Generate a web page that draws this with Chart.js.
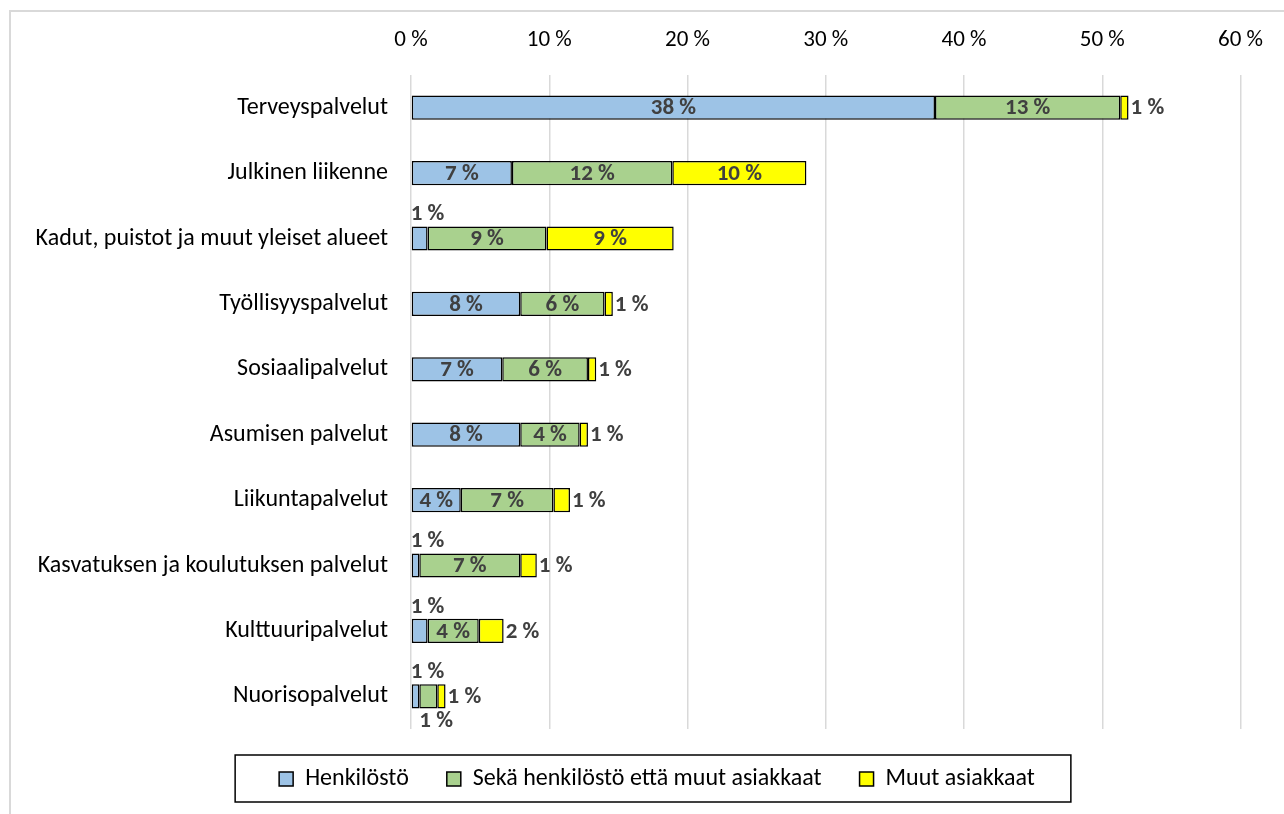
<!doctype html>
<html lang="fi">
<head>
<meta charset="utf-8">
<title>Palvelut</title>
<style>
  html, body { margin: 0; padding: 0; background: #fff; }
  #wrap { width: 1284px; height: 814px; position: relative; }
</style>
</head>
<body>
<div id="wrap"><canvas id="myChart" width="1284" height="814"></canvas></div>
<script src="https://cdn.jsdelivr.net/npm/chart.js"></script>
<script>
var kategoriat = [
  'Terveyspalvelut',
  'Julkinen liikenne',
  'Kadut, puistot ja muut yleiset alueet',
  'Työllisyyspalvelut',
  'Sosiaalipalvelut',
  'Asumisen palvelut',
  'Liikuntapalvelut',
  'Kasvatuksen ja koulutuksen palvelut',
  'Kulttuuripalvelut',
  'Nuorisopalvelut'
];
var henkilosto = [37.9, 7.3, 1.2, 7.9, 6.6, 7.9, 3.6, 0.6, 1.2, 0.6];
var molemmat   = [13.4, 11.6, 8.6, 6.1, 6.2, 4.3, 6.7, 7.3, 3.7, 1.3];
var muut       = [0.6, 9.7, 9.2, 0.6, 0.6, 0.6, 1.2, 1.2, 1.8, 0.6];
var sarjat = ['Henkilöstö', 'Sekä henkilöstö että muut asiakkaat', 'Muut asiakkaat'];
var varit = ['#9dc3e6', '#a9d18e', '#ffff00'];

var fontti = "Carlito, Calibri, 'Liberation Sans Narrow', 'Open Sans', sans-serif";

// kehys vasemmalle ja ylös + selitteen siirto ja laatikko
var kehys = {
  id: 'kehys',
  afterLayout: function(chart) {
    // selite hieman oikealle kuten alkuperäisessä
    chart.legend.left += 36;
    chart.legend.right += 36;
  },
  beforeDraw: function(chart) {
    var c = chart.ctx;
    c.save();
    c.fillStyle = '#fff';
    c.fillRect(0, 0, chart.width, chart.height);
    c.strokeStyle = '#d9d9d9';
    c.lineWidth = 2;
    c.beginPath();
    c.moveTo(10, chart.height);
    c.lineTo(10, 11);
    c.lineTo(chart.width, 11);
    c.stroke();
    c.restore();
  },
  afterDraw: function(chart) {
    var boxes = chart.legend.legendHitBoxes;
    if (!boxes || !boxes.length) return;
    var l = boxes[0].left, r = 0, t = boxes[0].top, b = 0;
    boxes.forEach(function(h) {
      l = Math.min(l, h.left);
      r = Math.max(r, h.left + h.width);
      t = Math.min(t, h.top);
      b = Math.max(b, h.top + h.height);
    });
    var c = chart.ctx;
    c.save();
    c.strokeStyle = '#000';
    c.lineWidth = 1.5;
    c.strokeRect(l - 44, t - 12, (r - l) + 80, (b - t) + 23);
    c.restore();
  }
};

// arvot palkkeihin
var arvot = {
  id: 'arvot',
  afterDatasetsDraw: function(chart) {
    var c = chart.ctx;
    c.save();
    c.font = 'bold 23px ' + fontti;
    c.fillStyle = '#404040';
    chart.data.datasets.forEach(function(ds, i) {
      var meta = chart.getDatasetMeta(i);
      meta.data.forEach(function(bar, j) {
        var v = ds.data[j];
        var txt = Math.round(v) + ' %';
        var x0 = Math.min(bar.base, bar.x), x1 = Math.max(bar.base, bar.x);
        var w = x1 - x0;
        var h = bar.height;
        c.textBaseline = 'middle';
        c.textAlign = 'left';
        if (w >= 30) {
          c.textAlign = 'center';
          c.fillText(txt, (x0 + x1) / 2, bar.y + 1);
        } else if (i === 0) {
          c.fillText(txt, x0 - 1, bar.y - h / 2 - 12);
        } else if (i === 1) {
          c.fillText(txt, x0, bar.y + h / 2 + 13);
        } else {
          c.fillText(txt, x1 + 2, bar.y + 1);
        }
      });
    });
    c.restore();
  }
};

var datasets = [henkilosto, molemmat, muut].map(function(d, i) {
  return {
    label: sarjat[i],
    data: d,
    backgroundColor: varit[i],
    borderColor: '#000',
    borderWidth: 1.5,
    borderSkipped: false,
    categoryPercentage: 1,
    barPercentage: 0.37
  };
});

var ctx = document.getElementById('myChart').getContext('2d');
new Chart(ctx, {
  type: 'bar',
  data: { labels: kategoriat, datasets: datasets },
  plugins: [kehys, arvot],
  options: {
    indexAxis: 'y',
    responsive: false,
    animation: false,
    layout: { padding: { left: 0, right: 42, top: 0, bottom: 13 } },
    scales: {
      x: {
        position: 'top',
        stacked: true,
        min: 0,
        max: 60,
        ticks: {
          stepSize: 10,
          padding: 21,
          color: '#000',
          font: { family: fontti, size: 23 },
          callback: function(v) { return v + ' %'; }
        },
        grid: { color: '#d9d9d9', lineWidth: 1.5, drawTicks: false },
        border: { display: false },
        afterFit: function(s) { s.height = 75; }
      },
      y: {
        stacked: true,
        ticks: {
          padding: 23,
          color: '#000',
          font: { family: fontti, size: 24 }
        },
        grid: { display: false, drawTicks: false },
        border: { display: false },
        afterFit: function(s) { s.width = 411; }
      }
    },
    plugins: {
      tooltip: { enabled: false },
      legend: {
        position: 'bottom',
        labels: {
          boxWidth: 14,
          boxHeight: 14,
          padding: 38,
          color: '#000',
          font: { family: fontti, size: 24 }
        }
      }
    }
  }
});
</script>
</body>
</html>
